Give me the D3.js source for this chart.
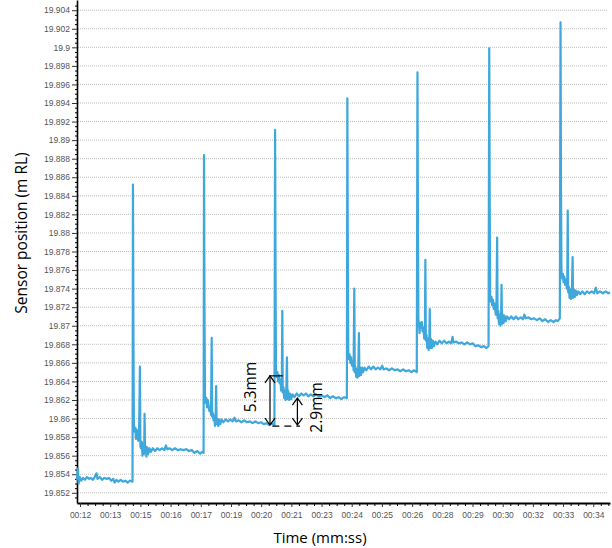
<!DOCTYPE html>
<html>
<head>
<meta charset="utf-8">
<script src="https://d3js.org/d3.v7.min.js"></script>
<style>
  html, body { margin: 0; padding: 0; background: #fff; }
  svg { display: block; }
</style>
</head>
<body>
<svg width="612" height="548"></svg>
<script>
// y tick values (m RL)
const yTicks = [19.852, 19.854, 19.856, 19.858, 19.86, 19.862, 19.864, 19.866, 19.868,
  19.87, 19.872, 19.874, 19.876, 19.878, 19.88, 19.882, 19.884, 19.886, 19.888,
  19.89, 19.892, 19.894, 19.896, 19.898, 19.9, 19.902, 19.904];

// x tick labels (mm:ss), one every 1.3 s starting at 12.65 s
const xTickLabels = ["00:12", "00:13", "00:15", "00:16", "00:17", "00:19", "00:20", "00:21", "00:23",
  "00:24", "00:25", "00:26", "00:28", "00:29", "00:30", "00:32", "00:33", "00:34"];
const xTickStart = 12.65;
const xTickStep = 1.3;
const timeRange = [12.52, 35.47];

// sensor trace, [seconds, m RL], one array per loading step
const seg0 = [[12.52,19.8534],[12.56,19.8546],[12.59,19.8530],[12.64,19.8537],[12.70,19.8533],[12.78,19.8536],
  [12.86,19.8534],[12.95,19.8537],[13.04,19.8535],[13.12,19.8536],[13.20,19.8534],[13.28,19.8537],[13.36,19.8541],
  [13.40,19.8535],[13.50,19.8537],[13.60,19.8534],[13.70,19.8536],[13.80,19.8535],[13.90,19.8536],[14.00,19.8533],
  [14.08,19.8535],[14.14,19.8531],[14.22,19.8534],[14.30,19.8532],[14.40,19.8534],[14.50,19.8532],[14.60,19.8533],
  [14.70,19.8531],[14.80,19.8533],[14.91,19.8532]];
const seg1 = [[14.93,19.8852],[14.95,19.8688],[14.97,19.8594],[15.00,19.8586],[15.03,19.8590],[15.06,19.8578],
  [15.09,19.8588],[15.13,19.8582],[15.16,19.8576],[15.19,19.8580],[15.23,19.8656],[15.25,19.8570],[15.28,19.8568],
  [15.31,19.8575],[15.34,19.8560],[15.37,19.8572],[15.41,19.8562],[15.43,19.8605],[15.45,19.8563],[15.48,19.8570],
  [15.51,19.8559],[15.55,19.8569],[15.59,19.8562],[15.64,19.8568],[15.70,19.8564],[15.78,19.8568],[15.88,19.8565],
  [15.98,19.8568],[16.08,19.8566],[16.18,19.8568],[16.28,19.8566],[16.35,19.8571],[16.40,19.8567],[16.50,19.8568],
  [16.62,19.8566],[16.74,19.8568],[16.86,19.8566],[16.98,19.8567],[17.10,19.8566],[17.22,19.8567],[17.34,19.8565],
  [17.46,19.8566],[17.58,19.8563],[17.70,19.8565],[17.82,19.8562],[17.90,19.8564],[17.97,19.8563]];
const seg2 = [[17.99,19.8884],[18.01,19.8715],[18.03,19.8625],[18.06,19.8617],[18.09,19.8622],[18.12,19.8612],
  [18.15,19.8620],[18.19,19.8614],[18.22,19.8608],[18.26,19.8612],[18.29,19.8604],[18.32,19.8687],[18.34,19.8602],
  [18.37,19.8606],[18.40,19.8598],[18.43,19.8603],[18.46,19.8592],[18.49,19.8600],[18.51,19.8635],[18.53,19.8594],
  [18.56,19.8600],[18.60,19.8592],[18.64,19.8599],[18.69,19.8594],[18.75,19.8599],[18.82,19.8596],[18.92,19.8599],
  [19.02,19.8597],[19.12,19.8599],[19.22,19.8597],[19.30,19.8601],[19.36,19.8597],[19.48,19.8598],[19.60,19.8596],
  [19.72,19.8598],[19.84,19.8596],[19.96,19.8597],[20.08,19.8595],[20.20,19.8597],[20.32,19.8595],[20.44,19.8596],
  [20.56,19.8594],[20.68,19.8595],[20.80,19.8593],[20.90,19.8595],[21.02,19.8593]];
const seg3 = [[21.05,19.8911],[21.07,19.8744],[21.09,19.8652],[21.12,19.8645],[21.15,19.8650],[21.18,19.8640],
  [21.21,19.8647],[21.25,19.8638],[21.28,19.8642],[21.31,19.8630],[21.34,19.8636],[21.36,19.8716],[21.38,19.8628],
  [21.41,19.8634],[21.44,19.8622],[21.47,19.8630],[21.50,19.8620],[21.53,19.8628],[21.56,19.8666],[21.58,19.8621],
  [21.61,19.8630],[21.65,19.8620],[21.69,19.8627],[21.74,19.8621],[21.80,19.8626],[21.88,19.8623],[21.98,19.8627],
  [22.08,19.8624],[22.18,19.8627],[22.28,19.8625],[22.38,19.8627],[22.48,19.8624],[22.58,19.8626],[22.70,19.8624],
  [22.82,19.8626],[22.94,19.8624],[23.06,19.8625],[23.18,19.8623],[23.30,19.8625],[23.42,19.8622],[23.54,19.8624],
  [23.66,19.8622],[23.78,19.8623],[23.90,19.8621],[24.02,19.8623],[24.14,19.8622]];
const seg4 = [[24.16,19.8945],[24.18,19.8790],[24.20,19.8672],[24.23,19.8664],[24.26,19.8669],[24.29,19.8660],
  [24.32,19.8666],[24.36,19.8657],[24.40,19.8662],[24.43,19.8652],[24.46,19.8740],[24.48,19.8650],[24.51,19.8656],
  [24.54,19.8645],[24.57,19.8653],[24.60,19.8644],[24.63,19.8652],[24.66,19.8692],[24.68,19.8646],[24.71,19.8655],
  [24.75,19.8647],[24.79,19.8655],[24.84,19.8650],[24.90,19.8655],[24.98,19.8652],[25.08,19.8656],[25.18,19.8653],
  [25.28,19.8656],[25.38,19.8653],[25.48,19.8655],[25.58,19.8653],[25.66,19.8657],[25.72,19.8653],[25.84,19.8654],
  [25.96,19.8652],[26.08,19.8654],[26.20,19.8652],[26.32,19.8653],[26.44,19.8651],[26.56,19.8653],[26.68,19.8651],
  [26.80,19.8652],[26.92,19.8650],[27.04,19.8652],[27.15,19.8650]];
const seg5 = [[27.18,19.8973],[27.20,19.8819],[27.22,19.8706],[27.25,19.8700],[27.27,19.8692],[27.30,19.8703],
  [27.33,19.8698],[27.37,19.8704],[27.40,19.8694],[27.44,19.8698],[27.47,19.8686],[27.50,19.8692],[27.52,19.8771],
  [27.54,19.8684],[27.57,19.8690],[27.60,19.8676],[27.63,19.8686],[27.66,19.8674],[27.69,19.8684],[27.71,19.8718],
  [27.73,19.8676],[27.76,19.8686],[27.80,19.8676],[27.84,19.8684],[27.89,19.8678],[27.95,19.8683],[28.03,19.8680],
  [28.13,19.8684],[28.23,19.8681],[28.33,19.8684],[28.43,19.8681],[28.53,19.8683],[28.63,19.8681],[28.69,19.8688],
  [28.73,19.8682],[28.84,19.8683],[28.96,19.8681],[29.08,19.8682],[29.20,19.8680],[29.32,19.8682],[29.44,19.8680],
  [29.56,19.8681],[29.68,19.8678],[29.80,19.8679],[29.92,19.8677],[30.04,19.8678],[30.14,19.8676],[30.24,19.8678]];
const seg6 = [[30.27,19.8999],[30.29,19.8835],[30.31,19.8733],[30.34,19.8726],[30.37,19.8731],[30.40,19.8722],
  [30.43,19.8728],[30.47,19.8718],[30.51,19.8724],[30.55,19.8712],[30.58,19.8718],[30.61,19.8795],[30.63,19.8708],
  [30.66,19.8716],[30.69,19.8702],[30.72,19.8712],[30.75,19.8700],[30.78,19.8710],[30.80,19.8744],[30.82,19.8702],
  [30.85,19.8712],[30.89,19.8703],[30.93,19.8711],[30.98,19.8705],[31.04,19.8710],[31.12,19.8707],[31.22,19.8710],
  [31.32,19.8707],[31.42,19.8710],[31.52,19.8707],[31.62,19.8709],[31.72,19.8707],[31.78,19.8712],[31.84,19.8708],
  [31.96,19.8709],[32.08,19.8707],[32.20,19.8708],[32.32,19.8706],[32.44,19.8708],[32.56,19.8705],[32.68,19.8707],
  [32.80,19.8704],[32.92,19.8706],[33.04,19.8704],[33.14,19.8706],[33.22,19.8705],[33.31,19.8708]];
const seg7 = [[33.34,19.9027],[33.36,19.8848],[33.38,19.8758],[33.41,19.8751],[33.44,19.8756],[33.47,19.8747],
  [33.50,19.8753],[33.54,19.8744],[33.58,19.8750],[33.61,19.8740],[33.63,19.8745],[33.65,19.8824],[33.67,19.8736],
  [33.70,19.8742],[33.73,19.8730],[33.76,19.8739],[33.79,19.8729],[33.83,19.8737],[33.86,19.8774],[33.88,19.8730],
  [33.91,19.8739],[33.95,19.8731],[33.99,19.8738],[34.04,19.8733],[34.10,19.8737],[34.18,19.8734],[34.28,19.8737],
  [34.38,19.8734],[34.48,19.8737],[34.58,19.8735],[34.68,19.8737],[34.78,19.8735],[34.86,19.8741],[34.92,19.8735],
  [35.04,19.8737],[35.16,19.8735],[35.28,19.8737],[35.40,19.8735],[35.47,19.8736]];

// settlement annotations: base level, level after step, settled level
const annotBase = 19.8593;
const annotTop53 = 19.8646;
const annotTop29 = 19.8622;

const svg = d3.select("svg");
const margin = {top: 0, right: 2, bottom: 45, left: 77};
const width = +svg.attr("width") - margin.left - margin.right;
const height = +svg.attr("height") - margin.top - margin.bottom;
const g = svg.append("g").attr("transform", "translate(" + margin.left + "," + margin.top + ")");

const x = d3.scaleLinear().domain(timeRange).range([0, width]);
const y = d3.scaleLinear().domain([19.8509, 19.9051]).range([height, 0]);

const labelFont = "'Liberation Sans', Arial, sans-serif";
const titleFont = "'Open Sans', 'Noto Sans', sans-serif";

// dotted horizontal grid
g.append("g")
  .selectAll("line")
  .data(yTicks)
  .enter().append("line")
    .attr("x1", 1)
    .attr("x2", width - 2)
    .attr("y1", d => y(d))
    .attr("y2", d => y(d))
    .attr("stroke", "#bdbdbd")
    .attr("stroke-width", 1)
    .attr("stroke-dasharray", "1,1");

// minor ticks
const yMinor = d3.range(19.8515, 19.905, 0.0005).filter(v => Math.abs(v * 500 - Math.round(v * 500)) > 1e-6);
g.append("g")
  .call(d3.axisLeft(y).tickValues(yMinor).tickSize(2).tickSizeOuter(0).tickFormat(""))
  .call(a => a.select(".domain").remove());

const xMajor = xTickLabels.map((d, i) => xTickStart + i * xTickStep);
const xMinor = d3.range(xTickStart - xTickStep / 2, timeRange[1], xTickStep / 4)
  .filter(t => t > timeRange[0] && xMajor.every(m => Math.abs(m - t) > 0.01));
g.append("g")
  .attr("transform", "translate(0," + height + ")")
  .call(d3.axisBottom(x).tickValues(xMinor).tickSize(3).tickSizeOuter(0).tickFormat(""))
  .call(a => a.select(".domain").remove());

// y axis
const yAxis = g.append("g")
  .call(d3.axisLeft(y).tickValues(yTicks).tickSize(5).tickSizeOuter(0).tickPadding(2).tickFormat(d => String(d)));
yAxis.select(".domain").attr("stroke", "#000").attr("stroke-width", 1.6);
yAxis.selectAll(".tick line").attr("stroke", "#333");
yAxis.selectAll("text")
  .attr("font-family", labelFont)
  .attr("font-size", 8.5)
  .attr("fill", "#555");

// x axis
const xAxis = g.append("g")
  .attr("transform", "translate(0," + height + ")")
  .call(d3.axisBottom(x).tickValues(xMajor).tickSize(4).tickSizeOuter(0).tickPadding(5)
    .tickFormat((d, i) => xTickLabels[i]));
xAxis.select(".domain").attr("stroke", "#000").attr("stroke-width", 2);
xAxis.selectAll(".tick line").attr("stroke", "#333");
xAxis.selectAll("text")
  .attr("font-family", labelFont)
  .attr("font-size", 8.5)
  .attr("fill", "#555");

// sensor trace
const series = [].concat(seg0, seg1, seg2, seg3, seg4, seg5, seg6, seg7);
const line = d3.line()
  .x(d => x(d[0]))
  .y(d => y(d[1]));

g.append("path")
  .datum(series)
  .attr("fill", "none")
  .attr("stroke", "#3ea7dc")
  .attr("stroke-width", 2.2)
  .attr("stroke-linejoin", "round")
  .attr("d", line);

// annotations
const ann = g.append("g").attr("stroke", "#000").attr("fill", "none").attr("stroke-width", 1.2);

const doubleArrow = (t, v0, v1) => {
  const ax = x(t), ya = y(v0), yb = y(v1);
  ann.append("line").attr("x1", ax).attr("x2", ax).attr("y1", ya).attr("y2", yb);
  ann.append("path").attr("d", "M" + (ax - 5) + "," + (ya - 7) + "L" + ax + "," + ya + "L" + (ax + 5) + "," + (ya - 7));
  ann.append("path").attr("d", "M" + (ax - 5) + "," + (yb + 7) + "L" + ax + "," + yb + "L" + (ax + 5) + "," + (yb + 7));
};

doubleArrow(20.83, annotBase, annotTop53);
doubleArrow(22.01, annotBase, annotTop29);

ann.append("line")
  .attr("x1", x(20.80)).attr("x2", x(21.38))
  .attr("y1", y(annotTop53)).attr("y2", y(annotTop53));
ann.append("line")
  .attr("x1", x(20.93)).attr("x2", x(22.12))
  .attr("y1", y(annotBase) + 1).attr("y2", y(annotBase) + 1)
  .attr("stroke-dasharray", "7,5");

const annText = (t, v, label) => {
  g.append("text")
    .attr("transform", "translate(" + x(t) + "," + y(v) + ") rotate(-90)")
    .attr("text-anchor", "middle")
    .attr("dy", "0.35em")
    .attr("font-family", titleFont)
    .attr("font-size", 15.5)
    .attr("fill", "#000")
    .text(label);
};
annText(20.01, 19.8634, "5.3mm");
annText(22.85, 19.8612, "2.9mm");

// axis titles
svg.append("text")
  .attr("transform", "translate(22,233) rotate(-90)")
  .attr("text-anchor", "middle")
  .attr("dy", "0.35em")
  .attr("font-family", titleFont)
  .attr("font-size", 15.5)
  .attr("fill", "#000")
  .text("Sensor position (m RL)");

svg.append("text")
  .attr("x", 320)
  .attr("y", 543)
  .attr("text-anchor", "middle")
  .attr("font-family", titleFont)
  .attr("font-size", 15)
  .attr("fill", "#000")
  .text("Time (mm:ss)");
</script>
</body>
</html>
